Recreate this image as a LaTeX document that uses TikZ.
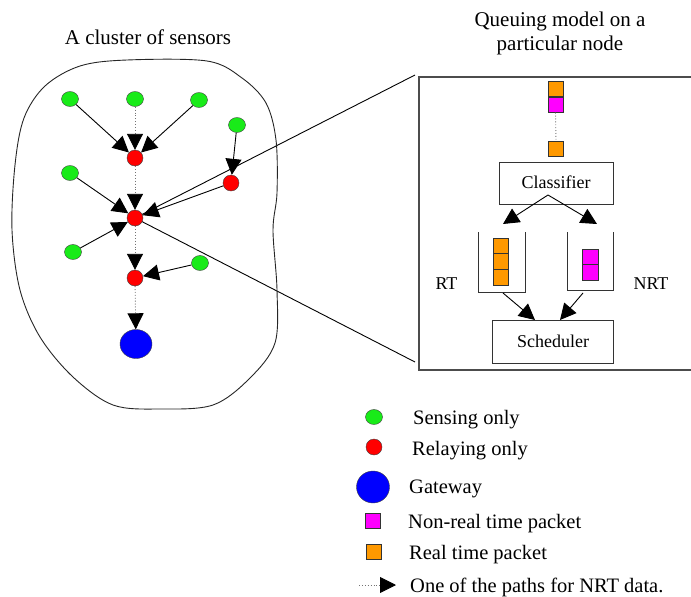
\documentclass[tikz,border=0pt]{standalone}
\usepackage{fontspec}
\setmainfont{Liberation Serif}
\usetikzlibrary{arrows.meta,shapes.geometric,backgrounds}
\definecolor{sgreen}{RGB}{25,235,25}
\definecolor{pkorange}{RGB}{255,153,0}
\definecolor{pkmag}{RGB}{255,0,255}
\tikzset{
  sens/.style={ellipse,draw=black!75,fill=sgreen,minimum width=17pt,minimum height=15pt,inner sep=0pt},
  relay/.style={circle,draw=black!75,fill=red,minimum size=16pt,inner sep=0pt},
  gw/.style={ellipse,draw=black!75,fill=blue,minimum width=32pt,minimum height=29pt,inner sep=0pt},
  rtpk/.style={rectangle,draw=black!80,fill=pkorange,minimum width=15pt,minimum height=15pt,inner sep=0pt},
  nrtpk/.style={rectangle,draw=black!80,fill=pkmag,minimum width=15pt,minimum height=15pt,inner sep=0pt},
  tri/.style={-{Triangle[length=16pt,width=16pt,color=black]}},
  solidarr/.style={tri,black,line width=0.9pt},
  dotarr/.style={tri,black!55,dotted,line width=0.9pt},
  procbox/.style={rectangle,draw=black!80,line width=0.9pt,inner sep=0pt},
  bigtxt/.style={font=\fontsize{21}{25}\selectfont,inner sep=0pt},
  legtxt/.style={font=\fontsize{20.5}{24}\selectfont,inner sep=0pt,anchor=base west},
  boxtxt/.style={font=\fontsize{18}{22}\selectfont,inner sep=0pt,anchor=base},
}
\begin{document}
\begin{tikzpicture}[x=1pt,y=-1pt]
\useasboundingbox (0,0) rectangle (691,597);
% titles
\node[bigtxt,anchor=base] (t1) at (148,44) {A cluster of sensors};
\node[bigtxt,anchor=base] (t2) at (560,27) {Queuing model on a};
\node[bigtxt,anchor=base] (t3) at (560,50) {particular node};
% cluster outline
\draw[line width=0.9pt,black!85] plot[smooth cycle,tension=0.55] coordinates {
 (127,60) (207,61) (242,78) (266,103) (276,140) (277,193) (273,230) (277,290)
 (275,343) (250,378) (213,405) (160,409) (113,405) (73,377) (40,337) (20,290)
 (12,230) (15,165) (24,118) (45,86) (80,66)};
% nodes of the cluster
\node[sens] (g1) at (70,99) {};
\node[sens] (g2) at (135,99) {};
\node[sens] (g3) at (199,100) {};
\node[sens] (g4) at (237,125) {};
\node[sens] (g5) at (70,173) {};
\node[sens] (g6) at (73,252) {};
\node[sens] (g7) at (200,263) {};
\node[relay] (r1) at (135,158) {};
\node[relay] (r2) at (231,183) {};
\node[relay] (r3) at (135,218) {};
\node[relay] (r4) at (135,278) {};
\node[gw] (gw) at (136,344) {};
% edges
\draw[solidarr] (g1) -- (r1);
\draw[dotarr] (g2) -- (r1);
\draw[solidarr] (g3) -- (r1);
\draw[solidarr] (g4) -- (r2);
\draw[dotarr] (r1) -- (r3);
\draw[solidarr] (g5) -- (r3);
\draw[solidarr] (r2) -- (r3);
\draw[solidarr] (g6) -- (r3);
\draw[dotarr] (r3) -- (r4);
\draw[solidarr] (g7) -- (r4);
\draw[dotarr] (r4) -- (gw);
% queuing model box (right side runs off the page)
\coordinate (qtl) at (419,77);
\coordinate (qbl) at (419,370);
\coordinate (qtr) at (693,77);
\coordinate (qbr) at (693,370);
\draw[line width=1.2pt,black!70] (qtr) -- (qtl) -- (qbl) -- (qbr) -- cycle;
% zoom lines
\coordinate (zt) at (415,75);
\coordinate (zb) at (415,362);
\begin{scope}[on background layer]
\draw[line width=0.9pt] (r3.center) -- (zt);
\draw[line width=0.9pt] (r3.center) -- (zb);
\end{scope}
% incoming packets
\node[rtpk] (o1) at (555.5,89) {};
\node[nrtpk] (m1) at (555.5,105) {};
\node[rtpk] (o2) at (556,149) {};
\draw[black!55,dotted,line width=0.9pt] (m1.south) -- (o2.north);
% classifier
\node[procbox,minimum width=114pt,minimum height=42pt] (cls) at (556,183) {};
\node[boxtxt] (clst) at (556,188) {Classifier};
\coordinate (capex) at (548,195);
\coordinate (qlin) at (503,224);
\coordinate (qrin) at (597,224);
\draw[solidarr] (capex) -- (qlin);
\draw[solidarr] (capex) -- (qrin);
% queues
\draw[line width=0.9pt,black!80] (478,232) -- (478,292) -- (525,292) -- (525,232);
\draw[line width=0.9pt,black!80] (567,232) -- (567,290) -- (613,290) -- (613,232);
\node[rtpk,minimum height=15.7pt] (q1) at (500.5,245.8) {};
\node[rtpk,minimum height=15.7pt] (q2) at (500.5,261.5) {};
\node[rtpk,minimum height=15.7pt] (q3) at (500.5,277.2) {};
\node[nrtpk,minimum width=16pt,minimum height=15.5pt] (n1) at (590.5,256.8) {};
\node[nrtpk,minimum width=16pt,minimum height=15.5pt] (n2) at (590.5,272.3) {};
\node[boxtxt] (rtl) at (446.5,289) {RT};
\node[boxtxt] (nrtl) at (651,289) {NRT};
% scheduler
\node[procbox,minimum width=121pt,minimum height=43pt] (sch) at (553,342) {};
\node[boxtxt] (scht) at (553,347) {Scheduler};
\coordinate (rtout) at (503,293);
\coordinate (nrtout) at (583,293);
\coordinate (sin1) at (535,320);
\coordinate (sin2) at (560,320);
\draw[solidarr] (rtout) -- (sin1);
\draw[solidarr] (nrtout) -- (sin2);
% legend
\node[sens] (lg) at (374,417) {};
\node[legtxt] (lgt) at (413,424) {Sensing only};
\node[relay] (lr) at (374,447) {};
\node[legtxt] (lrt) at (412,455) {Relaying only};
\node[gw,minimum width=33pt,minimum height=32pt] (lb) at (373,487) {};
\node[legtxt] (lbt) at (409,493) {Gateway};
\node[nrtpk] (lm) at (373,521) {};
\node[legtxt] (lmt) at (408,528) {Non-real time packet};
\node[rtpk] (lo) at (374,552) {};
\node[legtxt] (lot) at (409,559) {Real time packet};
\coordinate (la1) at (359,585);
\coordinate (la2) at (396,585);
\draw[dotarr] (la1) -- (la2);
\node[legtxt] (lat) at (410,592) {One of the paths for NRT data.};
\end{tikzpicture}
\end{document}
